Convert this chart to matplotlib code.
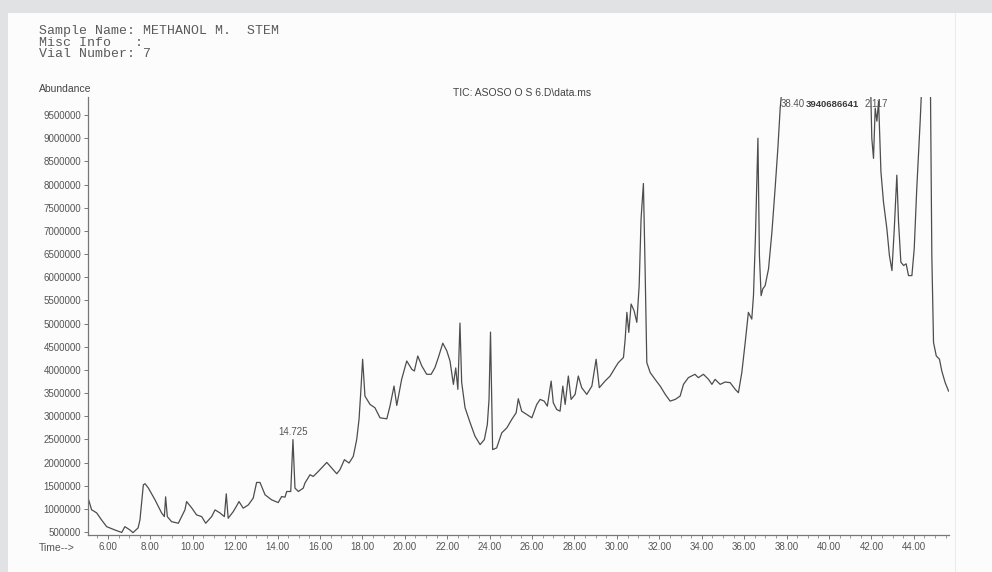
import numpy as np
import matplotlib.pyplot as plt
from matplotlib.patches import Rectangle
from matplotlib.ticker import MultipleLocator, FixedLocator

# TIC trace (time in min, abundance in counts)
# values of 10400000 are off-scale (clipped at the top of the plot)
time_min = [
    5.06, 5.23, 5.47, 5.70, 5.94, 6.33, 6.65, 6.80, 7.04, 7.18,
    7.42, 7.51, 7.67, 7.75, 7.90, 8.22, 8.53, 8.66, 8.72, 8.80,
    9.00, 9.32, 9.63, 9.71, 9.95, 10.18, 10.42, 10.61, 10.89, 11.05,
    11.28, 11.49, 11.58, 11.67, 11.91, 12.07, 12.18, 12.38, 12.62, 12.85,
    13.01, 13.17, 13.41, 13.72, 14.03, 14.19, 14.35, 14.43, 14.62, 14.725,
    14.82, 14.98, 15.21, 15.29, 15.53, 15.68, 15.92, 16.32, 16.55, 16.79,
    16.94, 17.15, 17.37, 17.57, 17.73, 17.84, 17.93, 18.01, 18.12, 18.36,
    18.59, 18.83, 19.15, 19.30, 19.49, 19.62, 19.85, 20.09, 20.33, 20.45,
    20.61, 20.80, 21.03, 21.24, 21.42, 21.58, 21.79, 21.98, 22.13, 22.29,
    22.40, 22.50, 22.60, 22.68, 22.84, 23.08, 23.31, 23.55, 23.75, 23.89,
    23.97, 24.04, 24.14, 24.33, 24.57, 24.81, 25.04, 25.25, 25.35, 25.51,
    25.75, 25.99, 26.22, 26.38, 26.57, 26.72, 26.90, 27.00, 27.16, 27.32,
    27.45, 27.56, 27.71, 27.84, 28.03, 28.18, 28.34, 28.58, 28.82, 29.02,
    29.17, 29.44, 29.68, 29.92, 30.07, 30.31, 30.39, 30.47, 30.56, 30.67,
    30.81, 30.94, 31.05, 31.14, 31.25, 31.33, 31.41, 31.57, 31.80, 32.04,
    32.28, 32.51, 32.75, 32.98, 33.14, 33.37, 33.68, 33.84, 34.08, 34.32,
    34.48, 34.63, 34.87, 35.10, 35.34, 35.58, 35.73, 35.89, 36.05, 36.20,
    36.36, 36.44, 36.53, 36.65, 36.72, 36.80, 36.88, 36.99, 37.15, 37.31,
    37.46, 37.59, 37.70, 37.85, 38.40, 39.40, 40.40, 41.40, 41.95, 42.02,
    42.10, 42.18, 42.26, 42.34, 42.45, 42.57, 42.73, 42.85, 42.97, 43.08,
    43.20, 43.28, 43.39, 43.52, 43.64, 43.75, 43.91, 44.02, 44.14, 44.30,
    44.40, 44.78, 44.85, 44.93, 45.06, 45.21, 45.32, 45.48, 45.64,
]
abundance = [
    1240000, 980000, 912000, 760000, 615000, 543000, 490000, 615000, 543000, 485000,
    587000, 760000, 1519000, 1541000, 1454000, 1194000, 912000, 832000, 1259000, 832000,
    723000, 689000, 977000, 1157000, 1020000, 869000, 832000, 689000, 832000, 977000,
    912000, 832000, 1324000, 797000, 940000, 1064000, 1157000, 1014000, 1085000, 1231000,
    1569000, 1569000, 1302000, 1194000, 1135000, 1265000, 1252000, 1374000, 1374000, 2495000,
    1447000, 1374000, 1447000, 1556000, 1736000, 1699000, 1807000, 2002000, 1881000, 1757000,
    1844000, 2061000, 1989000, 2133000, 2495000, 2928000, 3579000, 4229000, 3433000, 3253000,
    3182000, 2965000, 2943000, 3217000, 3650000, 3232000, 3795000, 4192000, 4012000, 3975000,
    4300000, 4084000, 3904000, 3904000, 4049000, 4266000, 4576000, 4409000, 4192000, 3687000,
    4041000, 3579000, 5009000, 3730000, 3182000, 2857000, 2566000, 2386000, 2495000, 2820000,
    3362000, 4814000, 2278000, 2315000, 2640000, 2748000, 2928000, 3073000, 3377000, 3108000,
    3037000, 2965000, 3253000, 3362000, 3325000, 3217000, 3758000, 3290000, 3145000, 3108000,
    3650000, 3253000, 3867000, 3362000, 3470000, 3867000, 3615000, 3470000, 3650000, 4229000,
    3615000, 3758000, 3867000, 4049000, 4157000, 4266000, 4663000, 5241000, 4808000, 5421000,
    5276000, 5025000, 5818000, 7264000, 8023000, 6180000, 4157000, 3941000, 3795000, 3650000,
    3470000, 3325000, 3362000, 3433000, 3687000, 3832000, 3904000, 3832000, 3904000, 3795000,
    3687000, 3795000, 3687000, 3737000, 3724000, 3579000, 3507000, 3941000, 4591000, 5241000,
    5096000, 5601000, 6831000, 9000000, 6469000, 5601000, 5747000, 5818000, 6180000, 6976000,
    7915000, 8782000, 9649000, 10400000, 10400000, 10400000, 10400000, 10400000, 10400000, 9000000,
    8565000, 9649000, 9367000, 9800000, 8277000, 7626000, 7047000, 6469000, 6143000, 7047000,
    8203000, 7193000, 6325000, 6252000, 6289000, 6035000, 6035000, 6614000, 7915000, 9360000,
    10400000, 10400000, 6469000, 4591000, 4301000, 4229000, 3975000, 3724000, 3542000,
]

# peak labels printed on the chromatogram
peak_labels = ['14.725']
peak_times = [14.725]
peak_heights = [2495000]
# the off-scale peaks carry a run of overprinted labels: head, smeared middle, tail
top_head = '38.40'
top_smear = '3940686641'
top_tail = '2.117'

header = ['Sample Name: METHANOL M.  STEM', 'Misc Info   :', 'Vial Number: 7']
y_ticks = list(range(500000, 10000000, 500000))
x_ticks = list(range(6, 46, 2))

W, H = 992, 572
ink = '#4d4d4d'
fig = plt.figure(figsize=(W / 100, H / 100), dpi=100)
fig.patch.set_facecolor('#e1e2e4')
# scanned paper sheet
fig.add_artist(Rectangle((8 / W, 0), 1, 1 - 13 / H, transform=fig.transFigure,
                         facecolor='#fcfcfc', edgecolor='none', zorder=0))
fig.add_artist(plt.Line2D([955 / W, 955 / W], [0, 1 - 13 / H], transform=fig.transFigure,
                          color='#ececec', lw=0.8, zorder=0))

ax = fig.add_axes([88 / W, (H - 535) / H, (949 - 88) / W, (535 - 97) / H])
ax.set_facecolor('none')
ax.plot(time_min, abundance, color=ink, lw=0.9)
ax.set_xlim(5.06, 45.66)
ax.set_ylim(435000, 9890000)

for s in ['top', 'right']:
    ax.spines[s].set_visible(False)
for s in ['left', 'bottom']:
    ax.spines[s].set_color('#777777')
    ax.spines[s].set_linewidth(0.9)

ax.xaxis.set_major_locator(FixedLocator(x_ticks))
ax.xaxis.set_minor_locator(MultipleLocator(0.5))
ax.set_xticklabels([f'{t:.2f}' for t in x_ticks])
ax.yaxis.set_major_locator(FixedLocator(y_ticks))
ax.set_yticklabels([str(v) for v in y_ticks])
ax.tick_params(axis='both', which='major', length=3, width=0.7, color='#777777',
               labelsize=7, labelcolor='#555555', pad=2)
ax.tick_params(axis='x', which='minor', length=2, width=0.6, color='#888888')
for lbl in ax.get_xticklabels() + ax.get_yticklabels():
    lbl.set_family('Liberation Sans')

for lbl, t, h in zip(peak_labels, peak_times, peak_heights):
    ax.annotate(lbl, (t, h), xytext=(0, 2), textcoords='offset points', ha='center',
                va='bottom', fontsize=7, color='#555555', family='Liberation Sans')

fig.text(781 / W, 1 - 104 / H, top_head, ha='left', va='center', fontsize=7,
         color='#555555', family='Liberation Sans')
fig.text(806 / W, 1 - 104 / H, top_smear, ha='left', va='center', fontsize=6.8,
         color='#3a3a3a', family='Liberation Sans', weight='bold')
fig.text(865 / W, 1 - 104 / H, top_tail, ha='left', va='center', fontsize=7,
         color='#555555', family='Liberation Sans')

for i, line in enumerate(header):
    fig.text(39 / W, 1 - (31 + 11.5 * i) / H, line, ha='left', va='center',
             fontsize=9.5, color='#5a5a5a', family='Liberation Mono')
fig.text(39 / W, 1 - 89 / H, 'Abundance', ha='left', va='center', fontsize=7.5,
         color='#444444', family='Liberation Sans')
fig.text(453 / W, 1 - 93 / H, 'TIC: ASOSO O S 6.D\\data.ms', ha='left', va='center',
         fontsize=7.5, color='#444444', family='Liberation Sans')
fig.text(39 / W, 1 - 548 / H, 'Time-->', ha='left', va='center', fontsize=7.5,
         color='#555555', family='Liberation Sans')

fig.savefig('out.png', dpi=100, facecolor=fig.get_facecolor())
